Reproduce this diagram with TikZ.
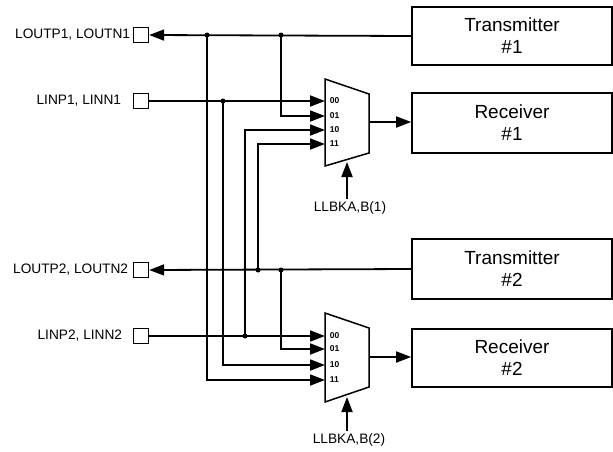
\documentclass[tikz,border=0pt]{standalone}
\usepackage{fontspec}
\setmainfont{Liberation Sans}
\usetikzlibrary{arrows.meta}
\begin{document}
\begin{tikzpicture}[x=1pt,y=-1pt,line width=1.8pt,
  arr/.style={-{Triangle[length=15pt,width=11pt]}},
  blk/.style={draw,line width=1.6pt,minimum width=200pt,minimum height=58pt,align=center,inner sep=0pt,font=\fontsize{19}{22}\selectfont},
  pin/.style={draw,line width=1.4pt,minimum size=15pt,inner sep=0pt},
  lbl/.style={font=\fontsize{13.7}{16}\selectfont,inner sep=0pt,anchor=east},
  sel/.style={font=\fontsize{13.7}{16}\selectfont,inner sep=0pt},
  inl/.style={font=\fontsize{8.5}{10}\selectfont\bfseries,inner sep=0pt,anchor=west},
  dot/.style={circle,fill,inner sep=0pt,minimum size=5pt}]
\useasboundingbox (0,0) rectangle (613,451);
% blocks
\node[blk] (tx1) at (512,36) {Transmitter\\\#1};
\node[blk,minimum height=60pt] (rx1) at (512,123) {Receiver\\\#1};
\node[blk,minimum height=60pt] (tx2) at (512,269) {Transmitter\\\#2};
\node[blk] (rx2) at (512,358) {Receiver\\\#2};
% pins
\node[pin] (lo1) at (141,35) {};
\node[pin] (li1) at (141,101) {};
\node[pin] (lo2) at (141,270) {};
\node[pin] (li2) at (141,336) {};
\node[lbl] (tlo1) at (131,35) {LOUTP1, LOUTN1};
\node[lbl] (tli1) at (122,101) {LINP1, LINN1};
\node[lbl] (tlo2) at (129,270) {LOUTP2, LOUTN2};
\node[lbl] (tli2) at (123,336) {LINP2, LINN2};
% muxes
\draw[line width=1.5pt] (325,79) -- (369,94) -- (369,153) -- (325,166) -- cycle;
\draw[line width=1.5pt] (325,313) -- (369,328) -- (369,387) -- (325,402) -- cycle;
\coordinate (a00) at (325,101);
\coordinate (a01) at (325,116);
\coordinate (a10) at (325,130);
\coordinate (a11) at (325,144);
\coordinate (m1o) at (369,122);
\coordinate (b00) at (325,336);
\coordinate (b01) at (325,349);
\coordinate (b10) at (325,365);
\coordinate (b11) at (325,380);
\coordinate (m2o) at (369,357);
\foreach \p/\t in {a00/00,a01/01,a10/10,a11/11,b00/00,b01/01,b10/10,b11/11}
  \node[inl] at ([xshift=4pt]\p) {\t};
% select
\node[sel] (s1) at (350,208) {LLBKA,B(1)};
\node[sel] (s2) at (349,440) {LLBKA,B(2)};
\coordinate (s1t) at (347,162);
\coordinate (s2t) at (347,397);
\draw[arr] (347,199) -- (s1t);
\draw[arr] (347,431) -- (s2t);
% junction points
\node[dot] (d1) at (207,35) {};
\node[dot] (d2) at (281,35) {};
\node[dot] (d3) at (223,101) {};
\node[dot] (d4) at (258,270) {};
\node[dot] (d5) at (281,270) {};
\node[dot] (d6) at (245,336) {};
% main lines
\draw[arr] (tx1.west) -- (lo1.east);
\draw[arr] (tx2.west) -- (lo2.east);
\draw[arr] (li1.east) -- (a00);
\draw[arr] (li2.east) -- (b00);
\draw[arr] (d2.center) |- (a01);
\draw[arr] (d6.center) |- (a10);
\draw[arr] (d4.center) |- (a11);
\draw[arr] (d1.center) |- (b11);
\draw[arr] (d3.center) |- (b10);
\draw[arr] (d5.center) |- (b01);
\draw[arr] (m1o) -- (rx1.west |- m1o);
\draw[arr] (m2o) -- (rx2.west |- m2o);
\end{tikzpicture}
\end{document}
